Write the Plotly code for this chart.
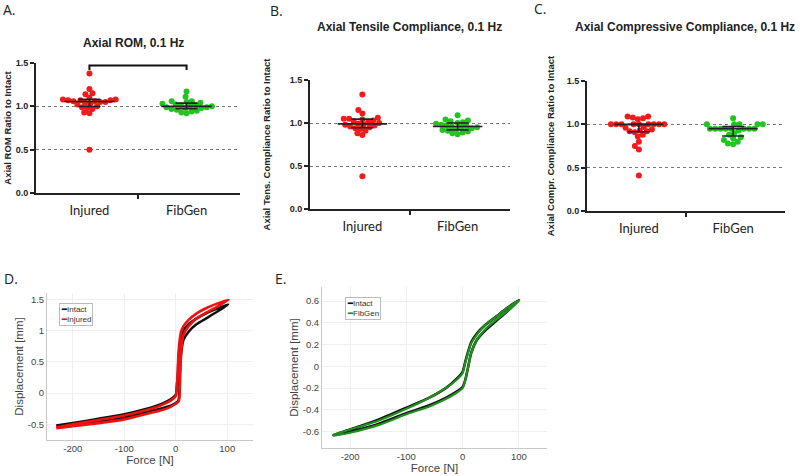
import numpy as np
import plotly.graph_objects as go

W, H = 800, 476

# ---------------- data ----------------
categories = ["Injured", "FibGen"]

rom_injured = [1.38, 1.20, 1.15, 1.14, 1.10, 1.08, 1.08, 1.07, 1.07, 1.07, 1.06, 1.06,
               1.05, 1.05, 1.04, 1.03, 1.02, 1.00, 0.99, 0.98, 0.97, 0.93, 0.92, 0.50]
rom_fibgen = [1.17, 1.11, 1.06, 1.06, 1.05, 1.04, 1.03, 1.02, 1.01, 1.01, 1.00, 1.00,
              0.99, 0.99, 0.98, 0.98, 0.97, 0.96, 0.95, 0.94, 0.93, 0.92]

tens_injured = [1.33, 1.15, 1.11, 1.06, 1.05, 1.05, 1.04, 1.03, 1.02, 1.01, 1.00, 0.99,
                0.98, 0.98, 0.97, 0.96, 0.95, 0.94, 0.93, 0.91, 0.88, 0.86, 0.38]
tens_fibgen = [1.09, 1.04, 1.03, 1.02, 1.01, 1.00, 0.99, 0.98, 0.97, 0.96, 0.96, 0.95,
               0.95, 0.94, 0.93, 0.92, 0.91, 0.90, 0.89, 0.88, 0.87]

comp_injured = [1.09, 1.09, 1.08, 1.07, 1.06, 1.00, 1.00, 1.00, 1.00, 1.00, 1.00, 1.00,
                1.00, 1.00, 0.97, 0.96, 0.94, 0.93, 0.92, 0.92, 0.91, 0.88, 0.86,
                0.80, 0.75, 0.71, 0.41]
comp_fibgen = [1.07, 1.00, 1.00, 1.00, 1.00, 1.00, 0.95, 0.95, 0.95, 0.95, 0.95, 0.95,
               0.95, 0.95, 0.93, 0.90, 0.88, 0.85, 0.84, 0.82, 0.80, 0.78, 0.77]

y_ticks = [0.0, 0.5, 1.0, 1.5]
y_ticktext = ["0.0", "0.5", "1.0", "1.5"]

# hysteresis loops (force [N], displacement [mm])
d_intact_force = [-232, -200, -150, -100, -60, -30, -10, 0, 2, 4, 5, 7, 10, 15, 25, 40, 60, 80, 102,
                  80, 60, 40, 25, 15, 10, 8, 7, 5, -10, -30, -60, -100, -150, -200, -232]
d_intact_disp = [-0.52, -0.48, -0.41, -0.34, -0.26, -0.18, -0.10, -0.03, 0.10, 0.30, 0.50, 0.70, 0.88,
                 1.00, 1.10, 1.19, 1.28, 1.35, 1.42,
                 1.30, 1.20, 1.10, 0.98, 0.85, 0.60, 0.30, 0.00, -0.12, -0.20, -0.25, -0.31,
                 -0.39, -0.46, -0.51, -0.53]
d_injured_force = [-232, -200, -150, -100, -60, -30, -10, 0, 2, 4, 5, 7, 10, 15, 25, 40, 60, 80, 103,
                   80, 60, 40, 25, 15, 11, 9, 8, 6, -10, -30, -60, -100, -150, -200, -232]
d_injured_disp = [-0.55, -0.50, -0.43, -0.36, -0.28, -0.20, -0.12, -0.05, 0.10, 0.35, 0.60, 0.80, 0.97,
                  1.07, 1.17, 1.27, 1.36, 1.43, 1.49,
                  1.38, 1.29, 1.19, 1.07, 0.93, 0.70, 0.40, 0.10, -0.13, -0.22, -0.28, -0.34,
                  -0.42, -0.48, -0.53, -0.56]

e_intact_force = [-230, -200, -150, -100, -60, -30, -10, 0, 5, 10, 15, 25, 40, 60, 80, 100,
                  80, 60, 40, 25, 15, 10, 5, 0, -10, -30, -60, -100, -150, -200, -230]
e_intact_disp = [-0.63, -0.58, -0.49, -0.38, -0.29, -0.20, -0.11, -0.05, 0.05, 0.14, 0.22, 0.30,
                 0.38, 0.46, 0.54, 0.61,
                 0.51, 0.42, 0.33, 0.24, 0.12, 0.00, -0.12, -0.19, -0.23, -0.29, -0.36, -0.43,
                 -0.53, -0.60, -0.63]
e_fibgen_force = [-231, -200, -150, -100, -60, -30, -10, 0, 5, 10, 15, 25, 40, 60, 80, 101,
                  80, 60, 40, 25, 15, 10, 5, 0, -10, -30, -60, -100, -150, -200, -231]
e_fibgen_disp = [-0.63, -0.58, -0.50, -0.39, -0.29, -0.20, -0.12, -0.06, 0.04, 0.13, 0.21, 0.29,
                 0.38, 0.46, 0.54, 0.61,
                 0.51, 0.43, 0.34, 0.24, 0.12, 0.00, -0.12, -0.20, -0.24, -0.30, -0.37, -0.44,
                 -0.54, -0.61, -0.64]

d_xticks = [-200, -100, 0, 100]
d_yticks = [-0.5, 0, 0.5, 1, 1.5]
e_yticks = [-0.6, -0.4, -0.2, 0, 0.2, 0.4, 0.6]

RED = "#f21a1a"
GREEN = "#22c322"
LINE_RED = "#ee1111"
LINE_GREEN = "#1f8f1f"
LINE_BLACK = "#111111"

# ---------------- layout geometry (pixel boxes) ----------------
def dom_x(a, b):
    return [a / W, b / W]

def dom_y(top, bot):
    return [1 - bot / H, 1 - top / H]

panels = {
    "A": dict(x=(36, 240), y=(63, 193), title=(133, 43), ystand=2),
    "B": dict(x=(310, 510), y=(80, 209), title=(409, 27), ystand=17),
    "C": dict(x=(587, 785), y=(81, 211), title=(685, 27), ystand=10),
}
XR = [0.45, 2.55]
YR = [0, 1.5]


def beeswarm(vals, ypu, xpu, d):
    vals = np.asarray(vals, float)
    order = np.argsort(vals, kind="stable")
    placed = []
    offs = np.zeros(len(vals))
    for i in order:
        y = vals[i] * ypu
        forb = []
        for (px, py) in placed:
            dy = abs(py - y)
            if dy < d:
                dx = np.sqrt(d * d - dy * dy)
                forb.append((px - dx, px + dx))
        cands = [0.0] + [a for a, b in forb] + [b for a, b in forb]
        cands = sorted(cands, key=lambda c: (abs(c), c))
        for c in cands:
            if all(not (a + 1e-6 < c < b - 1e-6) for a, b in forb):
                offs[i] = c
                break
        placed.append((offs[i], y))
    return offs / xpu


fig = go.Figure()

scatter_sets = {
    "A": (rom_injured, rom_fibgen, "Axial ROM, 0.1 Hz", "Axial ROM Ratio to Intact"),
    "B": (tens_injured, tens_fibgen, "Axial Tensile Compliance, 0.1 Hz",
          "Axial Tens. Compliance Ratio to Intact"),
    "C": (comp_injured, comp_fibgen, "Axial Compressive Compliance, 0.1 Hz",
          "Axial Compr. Compliance Ratio to Intact"),
}

layout_axes = {}
annotations = []
for k, (pname, (inj, fib, title, ytitle)) in enumerate(scatter_sets.items()):
    idx = k + 1
    xa = "x" if idx == 1 else f"x{idx}"
    ya = "y" if idx == 1 else f"y{idx}"
    box = panels[pname]
    xpu = (box["x"][1] - box["x"][0]) / (XR[1] - XR[0])
    ypu = (box["y"][1] - box["y"][0]) / (YR[1] - YR[0])
    for ci, (vals, col) in enumerate([(inj, RED), (fib, GREEN)]):
        c = ci + 1
        offs = beeswarm(vals, ypu, xpu, 5.3)
        fig.add_trace(go.Scatter(x=c + offs, y=vals, mode="markers",
                                 marker=dict(color=col, size=6, line=dict(width=0)),
                                 xaxis=xa, yaxis=ya, showlegend=False, hoverinfo="skip"))
        q1, med, q3 = np.percentile(vals, [25, 50, 75])
        fig.add_trace(go.Scatter(x=[c - 0.26, c + 0.26], y=[med, med], mode="lines",
                                 line=dict(color="#222", width=1.6),
                                 xaxis=xa, yaxis=ya, showlegend=False, hoverinfo="skip"))
        fig.add_trace(go.Scatter(x=[c], y=[med], mode="markers",
                                 marker=dict(size=0.1, color="rgba(0,0,0,0)"),
                                 error_y=dict(type="data", symmetric=False, array=[q3 - med],
                                              arrayminus=[med - q1], color="#222",
                                              thickness=1.6, width=11),
                                 xaxis=xa, yaxis=ya, showlegend=False, hoverinfo="skip"))
    layout_axes[("xaxis" if idx == 1 else f"xaxis{idx}")] = dict(
        domain=dom_x(*box["x"]), range=XR, anchor=ya, showgrid=False, zeroline=False,
        automargin=False, showline=True, linecolor="#222", linewidth=2,
        tickvals=[1, 2], ticktext=categories, ticks="", ticklabelstandoff=4,
        tickfont=dict(family="Lato", size=13, color="#222"),
        minor=dict(tickvals=[1.5], ticks="outside", ticklen=4, tickcolor="#222", tickwidth=1.5),
    )
    layout_axes[("yaxis" if idx == 1 else f"yaxis{idx}")] = dict(
        domain=dom_y(*box["y"]), range=YR, anchor=xa, zeroline=False, automargin=False,
        showline=True, linecolor="#222", linewidth=2,
        tickvals=y_ticks, ticktext=y_ticktext, ticks="outside", ticklen=4,
        tickcolor="#222", tickwidth=1.5,
        tickfont=dict(family="Liberation Sans", size=9, color="#222", weight="bold"),
        showgrid=True, gridcolor="#777", griddash="dot", gridwidth=1,
        title=dict(text=ytitle, standoff=box["ystand"],
                   font=dict(family="Liberation Sans", size=9.5, color="#222", weight="bold")),
    )
    tx, ty = box["title"]
    annotations.append(dict(text=f"<b>{title}</b>", x=tx / W, y=1 - ty / H, xref="paper",
                            yref="paper", showarrow=False, xanchor="center", yanchor="middle",
                            font=dict(family="Liberation Sans", size=12, color="#222")))

# significance bracket in A
BRACKET_Y = 1.47
BRACKET_DROP = 0.05
fig.add_trace(go.Scatter(x=[1, 1, 2, 2],
                         y=[BRACKET_Y - BRACKET_DROP, BRACKET_Y, BRACKET_Y, BRACKET_Y - BRACKET_DROP],
                         mode="lines", line=dict(color="#111", width=2),
                         xaxis="x", yaxis="y", showlegend=False, hoverinfo="skip", cliponaxis=False))

# panel D
fig.add_trace(go.Scatter(x=d_intact_force, y=d_intact_disp, mode="lines", name="Intact",
                         line=dict(color=LINE_BLACK, width=2.6, shape="spline", smoothing=0.5),
                         xaxis="x4", yaxis="y4", showlegend=False))
fig.add_trace(go.Scatter(x=d_injured_force, y=d_injured_disp, mode="lines", name="Injured",
                         line=dict(color=LINE_RED, width=2.6, shape="spline", smoothing=0.5),
                         xaxis="x4", yaxis="y4", showlegend=False))
# panel E
fig.add_trace(go.Scatter(x=e_intact_force, y=e_intact_disp, mode="lines", name="Intact",
                         line=dict(color=LINE_BLACK, width=2.6, shape="spline", smoothing=0.5),
                         xaxis="x5", yaxis="y5", showlegend=False))
fig.add_trace(go.Scatter(x=e_fibgen_force, y=e_fibgen_disp, mode="lines", name="FibGen",
                         line=dict(color=LINE_GREEN, width=2.2, shape="spline", smoothing=0.5),
                         xaxis="x5", yaxis="y5", showlegend=False))

mat_font = dict(family="Liberation Sans", size=9.5, color="#444")
title_font = dict(family="Liberation Sans", size=11.5, color="#444")
mat_axis = dict(showline=True, linecolor="#c8c8c8", linewidth=1, showgrid=True,
                gridcolor="#efefef", zeroline=False, ticks="", tickfont=mat_font,
                automargin=False)

layout_axes["xaxis4"] = dict(domain=dom_x(47, 253), range=[-250, 150], anchor="y4",
                             tickvals=d_xticks, ticktext=[str(v) for v in d_xticks],
                             title=dict(text="Force [N]", font=title_font, standoff=2),
                             **mat_axis)
layout_axes["yaxis4"] = dict(domain=dom_y(293, 440), range=[-0.75, 1.6], anchor="x4",
                             tickvals=d_yticks, ticktext=["-0.5", "0", "0.5", "1", "1.5"],
                             title=dict(text="Displacement [mm]", font=title_font, standoff=1),
                             **mat_axis)
layout_axes["xaxis5"] = dict(domain=dom_x(322, 547), range=[-250, 150], anchor="y5",
                             tickvals=d_xticks, ticktext=[str(v) for v in d_xticks],
                             title=dict(text="Force [N]", font=title_font, standoff=2),
                             **mat_axis)
layout_axes["yaxis5"] = dict(domain=dom_y(287, 448), range=[-0.75, 0.73], anchor="x5",
                             tickvals=e_yticks, ticktext=["-0.6", "-0.4", "-0.2", "0", "0.2", "0.4", "0.6"],
                             title=dict(text="Displacement [mm]", font=title_font, standoff=1),
                             **mat_axis)

for lab, (px, py) in {"A.": (1, 9), "B.": (268, 10), "C.": (532, 8), "D.": (2, 278), "E.": (273, 278)}.items():
    annotations.append(dict(text=lab, x=px / W, y=1 - py / H, xref="paper", yref="paper",
                            showarrow=False, xanchor="left", yanchor="middle",
                            font=dict(family="Open Sans", size=14, color="#222")))

# compact MATLAB-style legends (boxed text with coloured line glyphs)
def legend_box(entries, px, py):
    txt = "<br>".join(f"<span style='color:{c}'><b>━</b></span>{n}" for n, c in entries)
    return dict(text=txt, x=px / W, y=1 - py / H, xref="paper", yref="paper",
                showarrow=False, xanchor="left", yanchor="top", align="left",
                bgcolor="white", bordercolor="#bbb", borderwidth=1, borderpad=1,
                font=dict(family="Liberation Sans", size=8, color="#333"))

annotations.append(legend_box([("Intact", LINE_BLACK), ("Injured", LINE_RED)], 59, 303))
annotations.append(legend_box([("Intact", LINE_BLACK), ("FibGen", LINE_GREEN)], 345, 297))

fig.update_layout(
    width=W, height=H, margin=dict(l=0, r=0, t=0, b=0, autoexpand=False),
    paper_bgcolor="white", plot_bgcolor="white",
    annotations=annotations,
    showlegend=False,
    **layout_axes,
)

fig.write_html("out.html", config={"displayModeBar": False},
               post_script="document.body.style.margin='0';")
